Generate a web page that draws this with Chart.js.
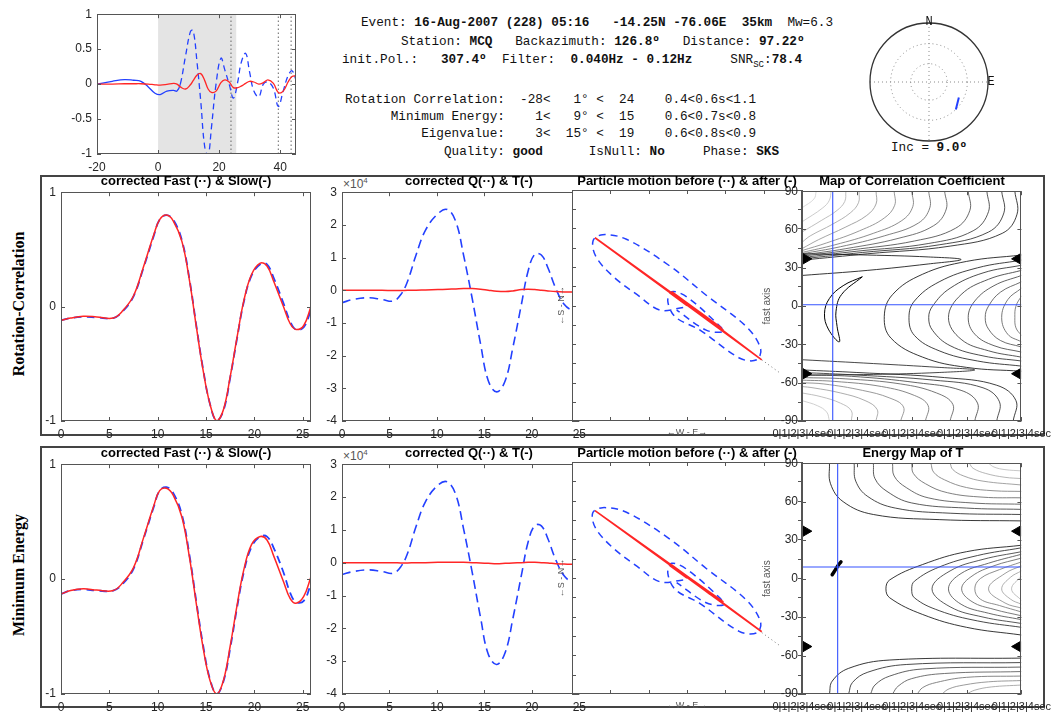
<!DOCTYPE html>
<html>
<head>
<meta charset="utf-8">
<script src="https://cdn.jsdelivr.net/npm/chart.js@4.4.1/dist/chart.umd.min.js"></script>
<style>
body { margin: 0; background: #fff; }
#page { position: relative; width: 1058px; height: 717px; overflow: hidden; background: #fff; }
.t { position: absolute; white-space: pre; font-family: "Liberation Mono", monospace; font-size: 12.7px; line-height: 1; color: #111; }
.t sub { font-size: 9px; line-height: 0; }
.frame { position: absolute; border: 2px solid #444; box-sizing: border-box; }
.ttl { position: absolute; font: bold 13px "Liberation Sans", Arial, sans-serif; color: #000; transform: translate(-50%, -50%); white-space: nowrap; }
.rowlab { position: absolute; font: bold 16px "Liberation Serif", serif; color: #000; transform: translate(-50%, -50%) rotate(-90deg); white-space: nowrap; }
.exp { position: absolute; font: 12px "Liberation Sans", Arial, sans-serif; color: #555; }
.exp sup { font-size: 8px; }
</style>
</head>
<body>
<div id="page">
  <div class="frame" style="left:40px;top:175px;width:1005px;height:261px"></div>
  <div class="frame" style="left:40px;top:446px;width:1005px;height:262px"></div>

  <div class="t" style="left:361px;top:17px">Event: <b>16-Aug-2007 (228) 05:16   -14.25N -76.06E  35km</b>  Mw=6.3</div>
  <div class="t" style="left:401px;top:35.5px">Station: <b>MCQ</b>   Backazimuth: <b>126.8º</b>   Distance: <b>97.22º</b></div>
  <div class="t" style="left:342px;top:54px">init.Pol.:   <b>307.4º</b>  Filter:  <b>0.040Hz - 0.12Hz</b>     SNR<sub>SC</sub>:<b>78.4</b></div>
  <div class="t" style="left:345px;top:94px">Rotation Correlation:  -28&lt;   1° &lt;  24    0.4&lt;0.6s&lt;1.1</div>
  <div class="t" style="left:345px;top:111px">      Minimum Energy:    1&lt;   9° &lt;  15    0.6&lt;0.7s&lt;0.8</div>
  <div class="t" style="left:345px;top:128px">          Eigenvalue:    3&lt;  15° &lt;  19    0.6&lt;0.8s&lt;0.9</div>
  <div class="t" style="left:345px;top:145.5px">             Quality: <b>good</b>      IsNull: <b>No</b>     Phase: <b>SKS</b></div>
  <div class="t" style="left:929px;top:142px;transform:translateX(-50%)">Inc = <b>9.0º</b></div>

  <div class="rowlab" style="left:19px;top:304px">Rotation-Correlation</div>
  <div class="rowlab" style="left:19px;top:575px">Minimum Energy</div>

  <div class="exp" style="left:343px;top:176px">×10<sup>4</sup></div>
  <div class="exp" style="left:343px;top:448px">×10<sup>4</sup></div>
</div>
<script>
// ---------- overview: radial (blue) & transverse (red), normalised ----------
const ovTime       = [-20,-15,-11,-8,-5.6,-3.2,-1,0.7,2.9,5.1,6.2,7.3,9,10.6,11.5,12.8,14,15.3,16.4,17.5,19,20.6,21.9,23.3,24.7,26.1,27.2,28.7,30,31.4,33,34.5,36,37.8,39.4,41,42.6,43.9,45.2];
const ovRadial     = [0,0.04,0.065,0.055,0.04,-0.04,-0.13,-0.15,-0.1,-0.09,-0.1,0,0.4,0.75,0.77,0.3,-0.25,-0.9,-1.02,-0.62,0,0.37,0.2,0,-0.2,0.03,0.3,0.44,0.17,-0.1,-0.18,0,0.03,-0.06,-0.32,-0.1,0.12,0.19,0.06];
const ovTransverse = [0,0,0.005,0.005,0.005,0,-0.01,-0.015,-0.005,0.01,0,-0.04,-0.07,-0.01,0.05,0.13,0.15,0.05,-0.07,-0.12,-0.1,0.02,0.06,0.03,-0.05,-0.05,-0.03,0.01,0.04,0.03,0,0.02,0.06,0.01,-0.12,-0.1,0.03,0.11,0.12];
const selWindow    = [0, 25.7];
const pickLines    = [23.9, 39.4, 43.6];

// ---------- corrected fast / slow (normalised) ----------
const fsTime  = [0,1,2.3,3.7,5.4,6.4,7.5,8.5,9.6,10.2,10.9,11.6,12.5,13.3,14,14.7,15.4,16.1,16.8,17.5,18.2,18.9,19.7,20.6,21.3,22,23,23.7,24.3,25.1,25.85];
const rcSlow  = [-0.12,-0.1,-0.085,-0.09,-0.1,-0.035,0.095,0.34,0.63,0.76,0.8,0.75,0.57,0.22,-0.18,-0.56,-0.85,-1.0,-0.9,-0.61,-0.27,0.05,0.28,0.38,0.355,0.22,0,-0.15,-0.2,-0.165,0];
const rcFast  = [-0.12,-0.1,-0.09,-0.095,-0.1,-0.04,0.09,0.33,0.62,0.76,0.8,0.76,0.58,0.23,-0.17,-0.55,-0.85,-1.0,-0.91,-0.62,-0.28,0.04,0.27,0.37,0.37,0.25,0.03,-0.13,-0.2,-0.18,-0.03];
const meSlow  = [-0.13,-0.1,-0.085,-0.095,-0.1,-0.03,0.1,0.35,0.64,0.77,0.79,0.73,0.54,0.18,-0.22,-0.6,-0.88,-1.0,-0.88,-0.58,-0.23,0.08,0.3,0.37,0.34,0.2,-0.02,-0.17,-0.21,-0.15,0.02];
const meFast  = [-0.13,-0.1,-0.09,-0.1,-0.1,-0.04,0.09,0.34,0.63,0.77,0.8,0.75,0.56,0.2,-0.2,-0.58,-0.87,-1.0,-0.89,-0.6,-0.25,0.06,0.28,0.37,0.37,0.27,0.06,-0.12,-0.2,-0.19,-0.04];

// ---------- corrected Q / T (x 1e4) ----------
const qtTime = [0,1.2,2.8,4.2,5.4,6.2,6.9,7.8,8.8,10.1,11.1,12,12.8,13.7,14.6,15.4,16.3,17.2,18,18.9,19.6,20.3,21,21.7,22.5,23.4,24.3,25];
const rcQ = [-0.38,-0.28,-0.23,-0.28,-0.33,-0.13,0.27,1.08,1.84,2.34,2.47,2.09,1.08,-0.23,-1.65,-2.76,-3.11,-2.76,-1.75,-0.43,0.58,1.1,1.08,0.68,0.07,-0.43,-0.6,-0.5];
const rcT = [0,0,0,0,-0.01,-0.01,0,0,0.01,0.02,0.03,0.04,0.05,0.05,0.03,0,-0.03,-0.04,-0.02,0.02,0.03,0.02,0,-0.02,-0.04,-0.05,-0.05,-0.04];
const meQ = [-0.36,-0.27,-0.22,-0.27,-0.32,-0.12,0.28,1.1,1.86,2.36,2.46,2.06,1.04,-0.27,-1.68,-2.78,-3.1,-2.73,-1.7,-0.38,0.62,1.13,1.12,0.72,0.1,-0.4,-0.58,-0.48];
const meT = [0,0,0,0,0,-0.01,-0.01,0,0,0.01,0.01,0.01,0.01,0,-0.01,-0.02,-0.03,-0.02,-0.01,0,0.01,0.01,0,-0.01,-0.03,-0.04,-0.05,-0.05];

// ---------- particle motion (E, N) ----------
const rcBefore = [[-0.1,-0.05],[-0.7,-0.12],[-1.3,0.28],[-1.92,0.75],[-2.37,1.26],[-2.45,1.68],[-2.2,1.84],[-1.58,1.72],[-0.44,1.02],[0.51,0.26],[1.56,-0.56],[1.92,-1.12],[1.82,-1.41],[1.38,-1.37],[0.34,-0.64],[-0.3,-0.3],[-0.5,0.1],[-0.4,0.36],[0,0.22],[0.86,-0.54],[0.95,-0.68],[0.5,-0.64],[-0.27,-0.12]];
const rcAfter  = [[0,0],[-0.45,0.33],[0.95,-0.64],[-2.4,1.76],[1.95,-1.41],[-0.4,0.36],[0.9,-0.58],[-0.2,0.2],[0.6,-0.4]];
const meBefore = [[-0.1,-0.05],[-0.7,-0.1],[-1.3,0.3],[-1.92,0.77],[-2.38,1.28],[-2.46,1.68],[-2.2,1.82],[-1.58,1.7],[-0.44,1.0],[0.51,0.24],[1.56,-0.58],[1.92,-1.14],[1.82,-1.42],[1.36,-1.38],[0.34,-0.66],[-0.3,-0.3],[-0.5,0.12],[-0.4,0.38],[0,0.22],[0.86,-0.52],[0.95,-0.7],[0.5,-0.64],[-0.27,-0.12]];
const meAfter  = [[0,0],[-0.45,0.32],[0.95,-0.62],[-2.4,1.74],[1.95,-1.39],[-0.4,0.34],[0.9,-0.6],[-0.2,0.18],[0.6,-0.42]];
const polLine  = [[1.95,-1.41],[2.45,-1.77]];

// ---------- correlation map contours (delay s, fast axis deg) ----------
const rcBest = [0.56, 1];
const rcTriangles = [37, -53];
const rcCshapes = [
  [[4,40],[3,35],[2.2,25],[1.65,9],[1.5,-8],[1.62,-25],[2.2,-40],[3,-48],[4,-51]],
  [[4,36],[3.2,30],[2.5,19],[2.05,4],[1.95,-9],[2.05,-23],[2.5,-35],[3.2,-43],[4,-47]],
  [[4,32],[3.3,26],[2.7,14],[2.38,0],[2.31,-9],[2.38,-19],[2.7,-31],[3.3,-39],[4,-43]],
  [[4,28],[3.4,21],[2.9,9],[2.67,-9],[2.9,-26],[3.4,-35],[4,-40]],
  [[4,24],[3.5,16],[3.15,4],[3.03,-9],[3.15,-22],[3.5,-31],[4,-36]],
  [[4,19],[3.62,11],[3.4,0],[3.34,-9],[3.4,-18],[3.62,-27],[4,-32]],
  [[4,14],[3.75,5],[3.64,-9],[3.75,-22],[4,-28]],
  [[4,8],[3.9,0],[3.88,-9],[3.9,-17],[4,-23]]
];
const rcTopArcs = [
  [[3.88,90],[3.92,72],[3.65,57],[2.7,47],[1.2,41],[0,36]],
  [[3.64,90],[3.68,73],[3.4,58],[2.5,48],[1.1,42],[0,37]],
  [[3.37,90],[3.4,74],[3.12,59],[2.3,49],[1.0,43],[0,38]],
  [[3.03,90],[3.06,75],[2.8,61],[2.05,51],[0.9,44],[0,39]],
  [[2.6,90],[2.63,76],[2.4,63],[1.75,53],[0.8,45],[0,40]],
  [[2.31,90],[2.33,77],[2.12,65],[1.5,55],[0.7,46.5],[0,41]],
  [[2.0,90],[2.02,78],[1.82,67],[1.3,57],[0.6,48],[0,42]],
  [[1.68,90],[1.69,79],[1.5,69],[1.05,59],[0.45,49.5],[0,43.5]],
  [[1.35,90],[1.35,80],[1.18,71],[0.8,62],[0.3,52],[0,45]],
  [[1.04,90],[1.03,81],[0.88,73],[0.55,64],[0.15,55],[0,50]],
  [[0.8,90],[0.78,82],[0.64,75],[0.35,67],[0,58]],
  [[0.53,90],[0.5,83],[0.38,77],[0,66]],
  [[0.26,90],[0.22,84],[0,77]]
];
const rcBotArcs = [
  [[3.85,-90],[3.9,-74],[3.55,-62],[2.6,-56],[1,-52],[0,-50]],
  [[3.55,-90],[3.6,-75],[3.3,-64],[2.4,-58],[1,-54],[0,-52]],
  [[3.15,-90],[3.2,-76],[2.9,-66],[2.1,-60],[0.9,-55],[0,-54]],
  [[2.7,-90],[2.75,-77],[2.45,-68],[1.8,-61],[0.8,-57],[0,-56]],
  [[2.25,-90],[2.3,-78],[2.05,-70],[1.45,-63],[0.6,-59],[0,-58]],
  [[1.8,-90],[1.85,-79],[1.6,-72],[1.1,-66],[0.4,-61],[0,-60]],
  [[1.35,-90],[1.37,-81],[1.15,-74],[0.7,-68],[0.2,-64],[0,-63]],
  [[0.9,-90],[0.9,-82],[0.7,-76],[0.35,-71],[0,-68]],
  [[0.5,-90],[0.45,-83],[0.28,-78],[0,-74]]
];
const rcHairpins = [
  [[0,24],[1.2,28],[2.3,33],[2.9,36.5],[2.3,38.5],[1.2,40],[0,41]],
  [[0,-42],[1.3,-45],[2.5,-48],[3.15,-50],[2.5,-52],[1.3,-53.5],[0,-54]]
];
const rcConfidence = [[1.1,23],[0.75,16],[0.5,6],[0.41,-6],[0.48,-18],[0.68,-28],[0.64,-16],[0.62,-4],[0.72,9],[1.1,23]];

// ---------- energy map of T contours ----------
const meBest = [0.65, 9];
const meTriangles = [37, -53];
const meCshapes = [
  [[4,26],[3,21],[2.2,11],[1.6,-1],[1.53,-8],[1.6,-15],[2.2,-28],[3,-38],[4,-44]],
  [[4,24],[3.2,18],[2.5,9],[2.05,-2],[2.0,-8],[2.05,-15],[2.5,-25],[3.2,-33],[4,-38]],
  [[4,21],[3.3,15],[2.7,6],[2.37,-8],[2.7,-22],[3.3,-30],[4,-35]],
  [[4,19],[3.4,12],[2.9,4],[2.67,-8],[2.9,-20],[3.4,-27],[4,-32]],
  [[4,16],[3.5,10],[3.1,2],[2.91,-8],[3.1,-18],[3.5,-24],[4,-29]],
  [[4,13],[3.6,7],[3.25,0],[3.15,-8],[3.25,-16],[3.6,-21],[4,-26]],
  [[4,10],[3.7,4],[3.4,-8],[3.7,-19],[4,-23]],
  [[4,6],[3.8,1],[3.64,-8],[3.8,-16],[4,-20]],
  [[4,2],[3.82,-8],[4,-17]]
];
const meTopArcs = [
  [[0.5,90],[0.52,74],[0.75,60],[1.3,50],[2.5,46],[4,45]],
  [[0.95,90],[0.98,76],[1.2,64],[1.7,55],[2.7,51],[4,50]],
  [[1.3,90],[1.33,78],[1.55,68],[2.0,59],[3,55],[4,54]],
  [[1.65,90],[1.68,80],[1.9,71],[2.3,63],[3.1,59],[4,58]],
  [[2.0,90],[2.03,82],[2.25,74],[2.65,67],[3.3,63.5],[4,63]],
  [[2.35,90],[2.4,83],[2.6,77],[3,71],[3.5,68.5],[4,68]],
  [[2.7,90],[2.75,85],[2.95,80],[3.3,76],[4,73]],
  [[3.05,90],[3.12,86],[3.35,82],[3.7,79],[4,78]],
  [[3.4,90],[3.5,87],[3.7,85],[4,84]]
];
const meBotArcs = [
  [[0.5,-90],[0.55,-80],[0.85,-70],[1.6,-63.5],[4,-62]],
  [[0.85,-90],[0.92,-81],[1.2,-73],[1.9,-67],[4,-65.5]],
  [[1.25,-90],[1.33,-83],[1.6,-76],[2.2,-70.5],[4,-69]],
  [[1.65,-90],[1.75,-84],[2.0,-78],[2.6,-74],[4,-72.5]],
  [[2.1,-90],[2.2,-85],[2.45,-81],[3.0,-77],[4,-76]],
  [[2.55,-90],[2.68,-86],[2.95,-83],[3.4,-80.5],[4,-79.5]],
  [[3.0,-90],[3.15,-87],[3.45,-84.5],[4,-83]]
];
const meConfidence = [[0.55,3],[0.61,7],[0.67,11],[0.71,13]];
const mapTickText = '0|1|2|3|4sec';

// ---------- stereonet ----------
const netRings = [0.31, 0.65];
const incPolarization = [[0.506,-0.263],[0.455,-0.465]];

const RED = '#ff2626', BLUE = '#2340ff';
Chart.defaults.font.family = "'Liberation Sans', Arial, sans-serif";
Chart.defaults.font.size = 12;
Chart.defaults.color = '#262626';

const page = document.getElementById('page');
const pts = a => a.map(([x, y]) => ({ x, y }));
const series = (xs, ys) => xs.map((x, i) => ({ x, y: ys[i] }));
const plain = v => String(+Number(v).toFixed(2));

// axes box + inward ticks, optional white plot background
const boxPlugin = {
  id: 'box',
  beforeDraw(ch, args, opts) {
    if (!opts.fill) return;
    const a = ch.chartArea;
    ch.ctx.save();
    ch.ctx.fillStyle = '#fff';
    ch.ctx.fillRect(a.left, a.top, a.width, a.height);
    ch.ctx.restore();
  },
  afterDraw(ch) {
    const { ctx, chartArea: a, scales } = ch;
    ctx.save();
    ctx.strokeStyle = '#555';
    ctx.lineWidth = 1;
    ctx.strokeRect(Math.round(a.left) + 0.5, Math.round(a.top) + 0.5, Math.round(a.width) - 1, Math.round(a.height) - 1);
    ctx.beginPath();
    scales.x.ticks.forEach(t => {
      const x = Math.round(scales.x.getPixelForValue(t.value)) + 0.5;
      ctx.moveTo(x, a.bottom); ctx.lineTo(x, a.bottom - 4);
      ctx.moveTo(x, a.top); ctx.lineTo(x, a.top + 4);
    });
    scales.y.ticks.forEach(t => {
      const y = Math.round(scales.y.getPixelForValue(t.value)) + 0.5;
      ctx.moveTo(a.left, y); ctx.lineTo(a.left + 4, y);
      ctx.moveTo(a.right, y); ctx.lineTo(a.right - 4, y);
    });
    ctx.stroke();
    ctx.restore();
  }
};

function makePane(l, t, r, b, o) {
  o = Object.assign({ yw: 40, xh: 24, pt: 10, pr: 12 }, o || {});
  const c = document.createElement('canvas');
  c.width = r - l + o.yw + o.pr;
  c.height = b - t + o.pt + o.xh;
  c.style.cssText = 'position:absolute;left:' + (l - o.yw) + 'px;top:' + (t - o.pt) + 'px';
  page.appendChild(c);
  o.canvas = c;
  return o;
}

function lin(min, max, step, tickExtra, more) {
  return Object.assign({
    min, max,
    ticks: Object.assign({ stepSize: step, includeBounds: false, padding: 6, color: '#262626', callback: plain }, tickExtra || {})
  }, more || {});
}

function plot(p, datasets, xs, ys, fill) {
  return new Chart(p.canvas, {
    type: 'line',
    data: { datasets },
    options: {
      responsive: false, animation: false, events: [],
      layout: { padding: { top: p.pt, right: p.pr, left: 0, bottom: 0 } },
      plugins: { legend: { display: false }, tooltip: { enabled: false }, box: { fill: !!fill } },
      elements: { point: { radius: 0 } },
      scales: {
        x: Object.assign({ type: 'linear', grid: { display: false, drawTicks: false }, border: { display: false }, afterFit: s => { s.height = p.xh; } }, xs),
        y: Object.assign({ type: 'linear', grid: { display: false, drawTicks: false }, border: { display: false }, afterFit: s => { s.width = p.yw; } }, ys)
      }
    },
    plugins: [boxPlugin]
  });
}

function contours(lines, f0, f1, w) {
  return lines.map((line, i) => {
    const f = lines.length > 1 ? f0 + (f1 - f0) * i / (lines.length - 1) : f0;
    const v = Math.round(20 + f * 200);
    return { data: pts(line), borderColor: 'rgb(' + v + ',' + v + ',' + v + ')', borderWidth: w || 0.85, tension: 0.4 };
  });
}

function crosshair(best) {
  return [
    { data: [{ x: best[0], y: -90 }, { x: best[0], y: 90 }], borderColor: '#3553ff', borderWidth: 1.1 },
    { data: [{ x: 0, y: best[1] }, { x: 4, y: best[1] }], borderColor: '#3553ff', borderWidth: 1.1 }
  ];
}

function triangles(angles) {
  const base = { showLine: false, pointStyle: 'triangle', pointRadius: 6, pointBackgroundColor: '#000', pointBorderColor: '#000', clip: false };
  return [
    Object.assign({ data: angles.map(a => ({ x: 0.07, y: a })), rotation: 90 }, base),
    Object.assign({ data: angles.map(a => ({ x: 3.93, y: a })), rotation: -90 }, base)
  ];
}

// ---------- overview ----------
plot(makePane(97, 10, 296, 154, { yw: 40, xh: 22, pt: 8, pr: 14 }), [
  { data: series(ovTime, ovTransverse), borderColor: RED, borderWidth: 1.3, tension: 0.4 },
  { data: series(ovTime, ovRadial), borderColor: BLUE, borderWidth: 1.3, tension: 0.4,
    segment: { borderDash: c => c.p0.parsed.x >= 7 ? [6, 4] : [] } },
  ...pickLines.map(v => ({ data: [{ x: v, y: -1 }, { x: v, y: 1 }], borderColor: '#666', borderWidth: 1, borderDash: [1.5, 2.5] })),
  { data: selWindow.map(v => ({ x: v, y: 1 })), borderWidth: 0, fill: { value: -1 }, backgroundColor: '#e4e4e4' }
], lin(-20, 45.2, 20, { padding: 6 }), lin(-1, 1, 0.5, { padding: 5 }));

// ---------- rows ----------
const rows = [
  { t: 190, b: 421, slow: rcSlow, fast: rcFast, Q: rcQ, T: rcT, before: rcBefore, after: rcAfter,
    map: [...triangles(rcTriangles), ...crosshair(rcBest),
          { data: pts(rcConfidence), borderColor: '#000', borderWidth: 1, tension: 0.4 },
          ...contours(rcHairpins, 0, 0.1),
          ...contours(rcCshapes, 0, 0.45),
          ...contours(rcTopArcs, 0.05, 0.95),
          ...contours(rcBotArcs, 0.05, 0.9)] },
  { t: 462, b: 694, slow: meSlow, fast: meFast, Q: meQ, T: meT, before: meBefore, after: meAfter,
    map: [...triangles(meTriangles), ...crosshair(meBest),
          { data: pts(meConfidence), borderColor: '#000', borderWidth: 3.5, tension: 0.4, borderCapStyle: 'round' },
          ...contours(meCshapes, 0, 0.8),
          ...contours(meTopArcs, 0, 0.85),
          ...contours(meBotArcs, 0, 0.7)] }
];

rows.forEach(r => {
  // fast & slow
  plot(makePane(61, r.t, 311, r.b), [
    { data: series(fsTime, r.slow), borderColor: RED, borderWidth: 1.5, tension: 0.4 },
    { data: series(fsTime, r.fast), borderColor: BLUE, borderWidth: 1.8, borderDash: [8, 5], tension: 0.4 }
  ], lin(0, 25.85, 5, { padding: 6 }), lin(-1, 1, 1, { padding: 5 }));

  // Q & T
  plot(makePane(342, r.t, 580, r.b), [
    { data: series(qtTime, r.T), borderColor: RED, borderWidth: 1.5, tension: 0.4 },
    { data: series(qtTime, r.Q), borderColor: BLUE, borderWidth: 1.6, borderDash: [9, 5], tension: 0.4 }
  ], lin(0, 25, 5, { padding: 6 }), lin(-4, 3, 1, { padding: 5 }));

  // particle motion
  plot(makePane(572, r.t, 802, r.b, { yw: 16, xh: 17 }), [
    { data: pts(r.after), borderColor: RED, borderWidth: 1.6, tension: 0 },
    { data: pts(r.before), borderColor: BLUE, borderWidth: 1.5, borderDash: [7, 5], tension: 0.35 },
    { data: pts(polLine), borderColor: '#777', borderWidth: 1, borderDash: [1, 3] }
  ],
  { min: -3, max: 3, ticks: { display: false, stepSize: 1 }, title: { display: true, text: '←W - E→', color: '#555', font: { size: 9 }, padding: 0 } },
  { min: -3, max: 3, ticks: { display: false, stepSize: 0.5 }, title: { display: true, text: '←S - N→', color: '#555', font: { size: 9 }, padding: 0 } },
  true);

  // map
  plot(makePane(802, r.t, 1023, r.b, { yw: 41, pr: 34 }), r.map,
    lin(0, 4, 1, { padding: 6, autoSkip: false, maxRotation: 0, minRotation: 0, font: { size: 11 }, callback: () => mapTickText }),
    lin(-90, 90, 30, { padding: 4 }, { title: { display: true, text: 'fast axis', color: '#555', font: { size: 10 }, padding: 0 } }),
    true);
});

// ---------- stereonet ----------
const netPlugin = {
  id: 'net',
  beforeDatasetsDraw(ch) {
    const { ctx, scales: { x, y } } = ch;
    const cx = x.getPixelForValue(0), cy = y.getPixelForValue(0);
    const u = x.getPixelForValue(1) - cx;
    ctx.save();
    ctx.strokeStyle = '#888';
    ctx.lineWidth = 1;
    ctx.setLineDash([1, 3]);
    netRings.forEach(rr => { ctx.beginPath(); ctx.arc(cx, cy, rr * u, 0, 2 * Math.PI); ctx.stroke(); });
    ctx.beginPath();
    ctx.moveTo(cx - u, cy); ctx.lineTo(cx + u, cy);
    ctx.moveTo(cx, cy - u); ctx.lineTo(cx, cy + u);
    ctx.stroke();
    ctx.setLineDash([]);
    ctx.strokeStyle = '#333';
    ctx.lineWidth = 1.3;
    ctx.beginPath(); ctx.arc(cx, cy, u, 0, 2 * Math.PI); ctx.stroke();
    ctx.fillStyle = '#111';
    ctx.font = '12px "Liberation Mono", monospace';
    ctx.textAlign = 'center';
    ctx.textBaseline = 'middle';
    ctx.fillText('N', cx, cy - u - 1);
    ctx.fillText('E', cx + u + 3, cy);
    ctx.restore();
  }
};
const netCanvas = document.createElement('canvas');
netCanvas.width = 140; netCanvas.height = 140;
netCanvas.style.cssText = 'position:absolute;left:859px;top:12px';
page.appendChild(netCanvas);
new Chart(netCanvas, {
  type: 'line',
  data: { datasets: [{ data: pts(incPolarization), borderColor: BLUE, borderWidth: 2 }] },
  options: {
    responsive: false, animation: false, events: [],
    layout: { padding: 0 },
    plugins: { legend: { display: false }, tooltip: { enabled: false } },
    elements: { point: { radius: 0 } },
    scales: {
      x: { type: 'linear', display: false, min: -1.186, max: 1.186 },
      y: { type: 'linear', display: false, min: -1.186, max: 1.186 }
    }
  },
  plugins: [netPlugin]
});

// ---------- panel titles ----------
[
  [186, 180, 'corrected Fast (··) & Slow(-)'], [469, 180, 'corrected Q(··) & T(-)'],
  [687, 180, 'Particle motion before (··) & after (-)'], [912, 180, 'Map of Correlation Coefficient'],
  [186, 451.5, 'corrected Fast (··) & Slow(-)'], [469, 451.5, 'corrected Q(··) & T(-)'],
  [687, 451.5, 'Particle motion before (··) & after (-)'], [913, 451.5, 'Energy Map of T']
].forEach(([x, y, s]) => {
  const d = document.createElement('div');
  d.className = 'ttl';
  d.style.left = x + 'px'; d.style.top = y + 'px';
  d.textContent = s;
  page.appendChild(d);
});
</script>
</body>
</html>
